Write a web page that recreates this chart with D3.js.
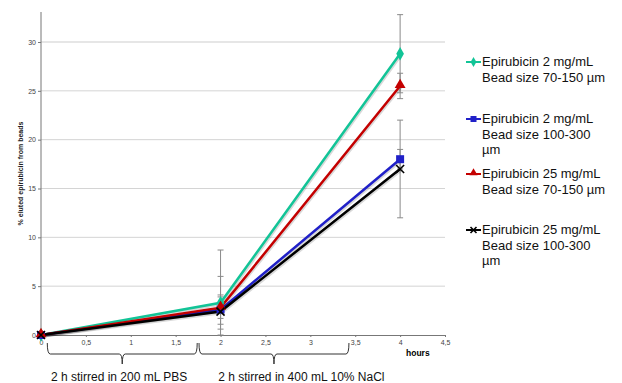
<!DOCTYPE html>
<html>
<head>
<meta charset="utf-8">
<script src="https://cdn.jsdelivr.net/npm/d3@7"></script>
<style>
  body { margin: 0; background: #fff; }
  svg { font-family: "Liberation Sans", Arial, sans-serif; }
</style>
</head>
<body>
<div id="chart"></div>
<script>
const hours = [0, 2, 4];
const seriesNames = [
  ['Epirubicin 2 mg/mL', 'Bead size 70-150 µm'],
  ['Epirubicin 2 mg/mL', 'Bead size 100-300', 'µm'],
  ['Epirubicin 25 mg/mL', 'Bead size 70-150 µm'],
  ['Epirubicin 25 mg/mL', 'Bead size 100-300', 'µm']
];
const green70 = [0, 3.3, 28.8];
const blue100 = [0, 2.6, 18.0];
const red70 = [0, 2.8, 25.5];
const black100 = [0, 2.4, 17.0];
const greenErr = [0, 2.7, 4.0];
const blueErr = [0, 1.5, 1.0];
const redErr = [0, 1.1, 1.3];
const blackErr = [0, 6.3, 5.0];
const xTicks = [0, 0.5, 1, 1.5, 2, 2.5, 3, 3.5, 4, 4.5];
const yTicks = [0, 5, 10, 15, 20, 25, 30];
const phases = [
  { from: 0.07, to: 1.74, labelAt: 0.87, label: '2 h stirred in 200 mL PBS' },
  { from: 1.76, to: 3.43, labelAt: 2.9, label: '2 h stirred in 400 mL 10% NaCl' }
];

const series = [
  { values: green70, err: greenErr, color: '#12c497', marker: 'diamond' },
  { values: blue100, err: blueErr, color: '#2020c8', marker: 'square' },
  { values: red70, err: redErr, color: '#c40000', marker: 'triangle' },
  { values: black100, err: blackErr, color: '#000000', marker: 'x' }
];

const W = 622, H = 383;
const svg = d3.select('#chart').append('svg').attr('width', W).attr('height', H);

const x = d3.scaleLinear().domain([0, 4.5]).range([41, 445]);
const y = d3.scaleLinear().domain([0, 30]).range([335, 42]);

// grid
svg.append('g').selectAll('line').data(yTicks.filter(d => d > 0)).enter().append('line')
  .attr('x1', x(0)).attr('x2', x(4.5))
  .attr('y1', d => y(d)).attr('y2', d => y(d))
  .attr('stroke', d => d === 30 ? '#e6e6e6' : '#d4d4d4')
  .attr('stroke-width', d => d === 30 ? 2 : 1);

// axes
const yAxis = svg.append('g').attr('transform', `translate(${x(0)},0)`)
  .call(d3.axisLeft(y).tickValues(yTicks).tickSize(3).tickFormat(d3.format('d')));
yAxis.select('.domain').attr('d', `M0,${y(0)}V12`);
const xAxis = svg.append('g').attr('transform', `translate(0,${y(0)})`)
  .call(d3.axisBottom(x).tickValues(xTicks).tickSize(2)
    .tickFormat(d => String(d).replace('.', ',')));
[yAxis, xAxis].forEach(a => {
  a.select('.domain').attr('stroke', '#777');
  a.selectAll('.tick line').attr('stroke', '#777');
  a.selectAll('.tick text').attr('fill', '#444').attr('font-size', 7);
});
yAxis.selectAll('.tick text').attr('x', -5);
xAxis.selectAll('.tick text').attr('y', 5);

svg.append('text')
  .attr('transform', `translate(23,${(y(0) + 12) / 2}) rotate(-90)`)
  .attr('text-anchor', 'middle').attr('font-size', 7).attr('font-weight', 'bold')
  .attr('fill', '#222')
  .text('% eluted epirubicin from beads');

svg.append('text').attr('x', 406).attr('y', 356)
  .attr('font-size', 8.5).attr('font-weight', 'bold').text('hours');

// error bars
const errG = svg.append('g').attr('stroke', '#8a8a8a').attr('stroke-width', 1);
series.forEach(s => {
  hours.forEach((h, i) => {
    if (!s.err[i]) return;
    const lo = Math.max(0, s.values[i] - s.err[i]), hi = s.values[i] + s.err[i];
    errG.append('line').attr('x1', x(h)).attr('x2', x(h)).attr('y1', y(lo)).attr('y2', y(hi));
    [lo, hi].forEach(v => errG.append('line')
      .attr('x1', x(h) - 3).attr('x2', x(h) + 3).attr('y1', y(v)).attr('y2', y(v)));
  });
});

// lines
const line = d3.line().x((d, i) => x(hours[i])).y(d => y(d));
series.forEach(s => {
  svg.append('path').datum(s.values).attr('d', line)
    .attr('fill', 'none').attr('stroke', '#000').attr('stroke-opacity', 0.15)
    .attr('stroke-width', 2.5).attr('transform', 'translate(1,1.5)');
  svg.append('path').datum(s.values).attr('d', line)
    .attr('fill', 'none').attr('stroke', s.color).attr('stroke-width', 2.5);
});

function drawMarker(g, type, cx, cy, color, size) {
  if (type === 'diamond') {
    g.append('path').attr('d', d3.symbol(d3.symbolDiamond, size * size * 0.8)())
      .attr('transform', `translate(${cx},${cy})`).attr('fill', color);
  } else if (type === 'square') {
    g.append('rect').attr('x', cx - size / 2).attr('y', cy - size / 2)
      .attr('width', size).attr('height', size).attr('fill', color);
  } else if (type === 'triangle') {
    g.append('path').attr('d', d3.symbol(d3.symbolTriangle, size * size * 0.8)())
      .attr('transform', `translate(${cx},${cy - 1})`).attr('fill', color);
  } else {
    const r = size / 2;
    g.append('path').attr('d', `M${cx - r},${cy - r}L${cx + r},${cy + r}M${cx - r},${cy + r}L${cx + r},${cy - r}`)
      .attr('stroke', color).attr('stroke-width', 1.6);
  }
}

const markG = svg.append('g');
series.forEach(s => {
  s.values.forEach((v, i) => drawMarker(markG, s.marker, x(hours[i]), y(v), s.color, 8));
});

// phase brackets
const brG = svg.append('g').attr('stroke', '#333').attr('fill', 'none').attr('stroke-width', 1);
phases.forEach(p => {
  const x0 = x(p.from), x1 = x(p.to), xm = (x0 + x1) / 2;
  const top = 343, mid = 354, bot = 364;
  brG.append('path').attr('d',
    `M${x0},${top}Q${x0},${mid} ${x0 + 3},${mid}` +
    `L${xm - 3},${mid}Q${xm},${mid} ${xm},${bot}` +
    `Q${xm},${mid} ${xm + 3},${mid}` +
    `L${x1 - 3},${mid}Q${x1},${mid} ${x1},${top}`);
  svg.append('text').attr('x', x(p.labelAt)).attr('y', 381).attr('text-anchor', 'middle')
    .attr('font-size', 12).attr('fill', '#111').text(p.label);
});

// legend
const legendY = [62, 119, 174, 230];
const legG = svg.append('g');
series.forEach((s, k) => {
  const ly = legendY[k];
  legG.append('line').attr('x1', 466).attr('x2', 481).attr('y1', ly).attr('y2', ly)
    .attr('stroke', s.color).attr('stroke-width', 2);
  drawMarker(legG, s.marker, 473.5, ly, s.color, 6);
  seriesNames[k].forEach((t, j) => {
    legG.append('text').attr('x', 482).attr('y', ly + 4 + j * 15.5)
      .attr('font-size', 13).attr('fill', '#111').text(t);
  });
});
</script>
</body>
</html>
